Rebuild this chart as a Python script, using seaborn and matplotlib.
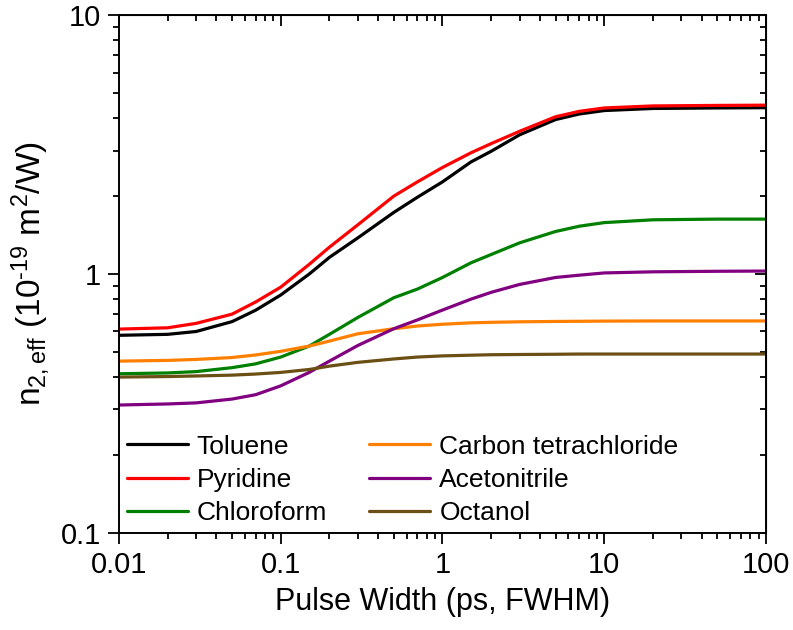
import numpy as np
import pandas as pd
import seaborn as sns
import matplotlib
matplotlib.use("Agg")
import matplotlib.pyplot as plt
from matplotlib.ticker import FixedLocator, LogLocator, NullFormatter, FuncFormatter

# pulse width (ps, FWHM) sample points
pulse_width = [0.01, 0.02, 0.03, 0.05, 0.07, 0.1, 0.15, 0.2, 0.3, 0.5, 0.7,
               1, 1.5, 2, 3, 5, 7, 10, 20, 50, 100]

# n2,eff values (1e-19 m^2/W)
toluene = [0.58, 0.585, 0.60, 0.655, 0.725, 0.83, 1.0, 1.16, 1.38, 1.73, 1.98,
           2.27, 2.71, 2.98, 3.45, 3.95, 4.15, 4.28, 4.36, 4.38, 4.39]
pyridine = [0.613, 0.62, 0.645, 0.70, 0.78, 0.89, 1.09, 1.27, 1.55, 2.0, 2.27,
            2.58, 2.94, 3.19, 3.56, 4.05, 4.25, 4.38, 4.46, 4.48, 4.49]
chloroform = [0.412, 0.415, 0.42, 0.435, 0.45, 0.478, 0.527, 0.585, 0.68, 0.81, 0.875,
              0.97, 1.105, 1.19, 1.32, 1.46, 1.53, 1.58, 1.62, 1.63, 1.63]
carbon_tet = [0.461, 0.464, 0.468, 0.476, 0.487, 0.503, 0.527, 0.551, 0.588, 0.615, 0.63,
              0.64, 0.648, 0.651, 0.654, 0.656, 0.657, 0.658, 0.659, 0.659, 0.659]
acetonitrile = [0.312, 0.315, 0.318, 0.329, 0.342, 0.370, 0.417, 0.461, 0.53, 0.615, 0.665,
                0.726, 0.80, 0.85, 0.912, 0.97, 0.99, 1.01, 1.02, 1.025, 1.027]
octanol = [0.400, 0.402, 0.404, 0.407, 0.411, 0.417, 0.428, 0.441, 0.456, 0.470, 0.478,
           0.483, 0.486, 0.488, 0.489, 0.490, 0.491, 0.491, 0.491, 0.491, 0.491]

names = ["Toluene", "Pyridine", "Chloroform", "Carbon tetrachloride", "Acetonitrile", "Octanol"]
colors = ["#000000", "#ff0000", "#008000", "#ff8000", "#800080", "#6b4f14"]
series = [toluene, pyridine, chloroform, carbon_tet, acetonitrile, octanol]

df = pd.concat([pd.DataFrame({"pw": pulse_width, "n2": s, "solvent": n})
                for n, s in zip(names, series)], ignore_index=True)

sns.set_style("ticks")
plt.rcParams["font.family"] = ["Liberation Sans", "DejaVu Sans"]
plt.rcParams["mathtext.fontset"] = "custom"
plt.rcParams["mathtext.rm"] = "Liberation Sans"
plt.rcParams["mathtext.it"] = "Liberation Sans:italic"
for key in ["text.color", "axes.labelcolor", "xtick.color", "ytick.color", "axes.edgecolor"]:
    plt.rcParams[key] = "black"

fig = plt.figure(figsize=(7.93, 6.30), dpi=100)
ax = fig.add_axes([0.150, 0.154, 0.816, 0.822])

sns.lineplot(data=df, x="pw", y="n2", hue="solvent", hue_order=names,
             palette=dict(zip(names, colors)), linewidth=2.3, ax=ax)

ax.set_xscale("log")
ax.set_yscale("log")
ax.set_xlim(0.01, 100)
ax.set_ylim(0.1, 10)

fmt = FuncFormatter(lambda v, p: "{:g}".format(v))
ax.xaxis.set_major_locator(FixedLocator([0.01, 0.1, 1, 10, 100]))
ax.yaxis.set_major_locator(FixedLocator([0.1, 1, 10]))
ax.xaxis.set_major_formatter(fmt)
ax.yaxis.set_major_formatter(fmt)
ax.xaxis.set_minor_locator(LogLocator(base=10, subs=np.arange(2, 10)))
ax.yaxis.set_minor_locator(LogLocator(base=10, subs=np.arange(2, 10)))
ax.xaxis.set_minor_formatter(NullFormatter())
ax.yaxis.set_minor_formatter(NullFormatter())

for sp in ax.spines.values():
    sp.set_linewidth(1.4)
    sp.set_color("black")
ax.tick_params(which="both", direction="out", width=1.3, colors="black", labelsize=21)
ax.tick_params(which="major", length=8, pad=5)
ax.tick_params(which="minor", length=4.5)

# mirrored ticks on top and right point inward
top = ax.secondary_xaxis("top")
top.set_xscale("log")
top.xaxis.set_major_locator(FixedLocator([0.01, 0.1, 1, 10, 100]))
top.xaxis.set_minor_locator(LogLocator(base=10, subs=np.arange(2, 10)))
top.tick_params(which="both", direction="in", width=1.3, labeltop=False)
top.tick_params(which="major", length=8)
top.tick_params(which="minor", length=4.5)
top.xaxis.set_minor_formatter(NullFormatter())
right = ax.secondary_yaxis("right")
right.yaxis.set_major_locator(FixedLocator([0.1, 1, 10]))
right.yaxis.set_minor_locator(LogLocator(base=10, subs=np.arange(2, 10)))
right.tick_params(which="both", direction="in", width=1.3, labelright=False)
right.tick_params(which="major", length=8)
right.tick_params(which="minor", length=4.5)
right.yaxis.set_minor_formatter(NullFormatter())

ax.set_xlabel("Pulse Width (ps, FWHM)", fontsize=22, labelpad=6)
ax.set_ylabel(r"n$_{2,\mathrm{eff}}$ (10$^{\text{-19}}$ m$^2$/W)", fontsize=24, labelpad=6)

ax.legend(loc="lower left", bbox_to_anchor=(0.0, 0.0), ncol=2, frameon=False,
          fontsize=19, handlelength=2.3, handletextpad=0.35, columnspacing=1.6,
          labelspacing=0.35, borderaxespad=0.3, borderpad=0.0)

fig.savefig("out.png", dpi=100)
